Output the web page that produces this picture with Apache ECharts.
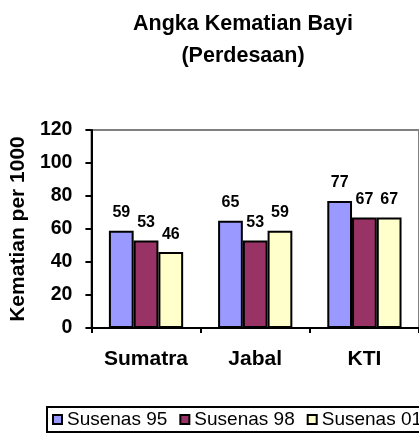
<!DOCTYPE html>
<html>
<head>
<meta charset="utf-8">
<script src="https://cdn.jsdelivr.net/npm/echarts@6/dist/echarts.min.js"></script>
<style>
  html, body { margin: 0; padding: 0; background: #fff; }
  #chart { width: 419px; height: 437px; }
</style>
</head>
<body>
<div id="chart"></div>
<script>
var categories = ['Sumatra', 'Jabal', 'KTI'];
var seriesNames = ['Susenas 95', 'Susenas 98', 'Susenas 01'];
var susenas95 = [59, 65, 77];
var susenas98 = [53, 53, 67];
var susenas01 = [46, 59, 67];
var colors = ['#9999FF', '#993366', '#FFFFCC'];

var font = 'Liberation Sans, Arial, sans-serif';

function makeSeries(name, data, color) {
  return {
    name: name,
    type: 'bar',
    data: data,
    barGap: '0%',
    barCategoryGap: '32%',
    itemStyle: { color: color, borderColor: '#000', borderWidth: 2 },
    label: {
      show: true,
      position: 'top',
      distance: 10,
      color: '#000',
      fontFamily: font,
      fontWeight: 'bold',
      fontSize: 16
    }
  };
}

var chart = echarts.init(document.getElementById('chart'));
chart.setOption({
  animation: false,
  backgroundColor: '#fff',
  title: {
    text: 'Angka Kematian Bayi\n(Perdesaan)',
    left: 238,
    top: 3,
    textAlign: 'center',
    textStyle: {
      fontFamily: font,
      fontWeight: 'bold',
      fontSize: 21.5,
      lineHeight: 32,
      color: '#000'
    }
  },
  legend: {
    data: seriesNames,
    left: 47,
    top: 407,
    width: 600,
    orient: 'horizontal',
    icon: 'rect',
    itemWidth: 9,
    itemHeight: 9,
    itemGap: 12,
    padding: [3, 5, 3, 5],
    borderColor: '#000',
    borderWidth: 2,
    textStyle: { fontFamily: font, fontSize: 19, color: '#000' }
  },
  grid: {
    left: 91,
    top: 130,
    right: -8,
    bottom: 109,
    show: true,
    borderColor: '#808080',
    borderWidth: 2
  },
  xAxis: {
    type: 'category',
    data: categories,
    axisLine: { lineStyle: { color: '#000', width: 2 } },
    axisTick: { show: true, length: 5, lineStyle: { color: '#000', width: 2 } },
    axisLabel: {
      interval: 0,
      margin: 21,
      color: '#000',
      fontFamily: font,
      fontWeight: 'bold',
      fontSize: 21
    }
  },
  yAxis: {
    type: 'value',
    min: 0,
    max: 120,
    interval: 20,
    name: 'Kematian per 1000',
    nameLocation: 'middle',
    nameGap: 60,
    nameTextStyle: {
      fontFamily: font,
      fontWeight: 'bold',
      fontSize: 21,
      color: '#000'
    },
    axisLine: { show: true, lineStyle: { color: '#000', width: 2 } },
    axisTick: { show: true, length: 6, lineStyle: { color: '#000', width: 2 } },
    splitLine: { show: false },
    axisLabel: {
      margin: 19,
      color: '#000',
      fontFamily: font,
      fontWeight: 'bold',
      fontSize: 19.5
    }
  },
  series: [
    makeSeries(seriesNames[0], susenas95, colors[0]),
    makeSeries(seriesNames[1], susenas98, colors[1]),
    makeSeries(seriesNames[2], susenas01, colors[2])
  ]
});
</script>
</body>
</html>
